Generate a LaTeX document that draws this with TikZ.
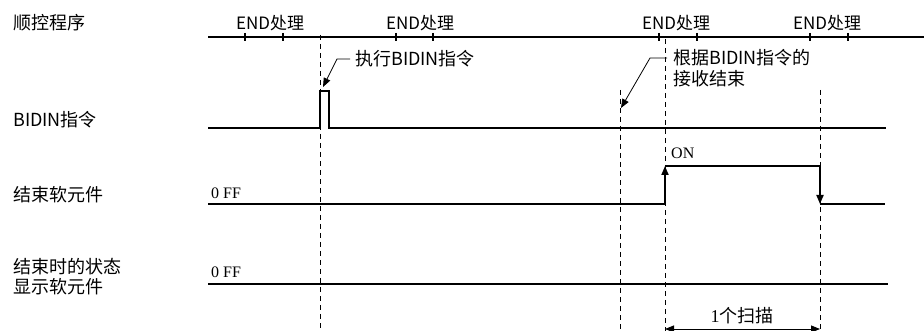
\documentclass[tikz,border=0pt]{standalone}
\usepackage{fontspec}
\setmainfont{Noto Sans CJK SC}
\newfontfamily\latserif{Liberation Serif}
\usetikzlibrary{arrows.meta}

\tikzset{
  sig/.style={line width=1.8pt},
  guide/.style={line width=0.7pt, dash pattern=on 5pt off 4pt},
  lead/.style={line width=0.8pt, -{Triangle[length=9pt,width=7pt]}},
  tip/.style={-{Triangle[length=9pt,width=7pt]}},
  lbl/.style={anchor=west, inner sep=0pt, font=\fontsize{18}{20}\selectfont},
  endlbl/.style={inner sep=0pt, font=\fontsize{17}{18}\selectfont},
  ser/.style={anchor=west, inner sep=0pt, font=\latserif\fontsize{16}{18}\selectfont},
}

\begin{document}
\begin{tikzpicture}[x=1pt,y=-1pt]
  \useasboundingbox (0,0) rectangle (924,331);

  % row labels
  \node[lbl] (seq) at (13,23) {顺控程序};
  \node[lbl] (cmd) at (13,120) {BIDIN指令};
  \node[lbl] (done) at (13,195) {结束软元件};
  \node[lbl, align=left] (stat) at (13,277) {结束时的状态\\显示软元件};

  % sequence program with END processing
  \draw[sig] (208,37) -- (924,37);
  \foreach \x in {245,283,396,433,659,697,810,848}
    \draw[sig] (\x,33) -- (\x,41);
  \foreach \x/\n in {270/end1,420/end2,676/end3,827/end4}
    \node[endlbl] (\n) at (\x,23) {END处理};

  % dashed guides
  \draw[guide] (320,35) -- (320,331);
  \draw[guide] (620,90) -- (620,331);
  \draw[guide] (665,39) -- (665,331);
  \draw[guide] (820,90) -- (820,331);

  % BIDIN instruction
  \draw[sig] (208,128) -- (320,128) -- (320,91) -- (329,91) -- (329,128) -- (886,128);

  % completion device
  \draw[sig] (208,204) -- (665,204);
  \draw[sig, tip] (665,204) -- (665,166);
  \draw[sig] (665,166) -- (820,166);
  \draw[sig, tip] (820,166) -- (820,204);
  \draw[sig] (820,204) -- (885,204);
  \node[ser] (off1) at (211,193) {0 FF};
  \node[ser] (on) at (671,153) {ON};

  % status device
  \draw[sig] (208,284) -- (888,284);
  \node[ser] (off2) at (211,272) {0 FF};

  % leaders
  \node[lbl] (exec) at (355,59) {执行BIDIN指令};
  \draw[lead] ([xshift=-5pt]exec.west) -- ++(-13,0) -- (323,87);
  \node[lbl] (recv) at (673,58) {根据BIDIN指令的};
  \node[lbl] (recv2) at (673,79) {接收结束};
  \draw[lead] ([xshift=-6pt]recv.west) -- ++(-17,0) -- (621,108);

  % one scan
  \draw[line width=0.8pt, {Triangle[length=9pt,width=7pt]}-{Triangle[length=9pt,width=7pt]}] (665,329) -- (820,329);
  \node[endlbl, font=\fontsize{18}{20}\selectfont] (scan) at (742,316) {{\latserif 1}个扫描};
\end{tikzpicture}
\end{document}
